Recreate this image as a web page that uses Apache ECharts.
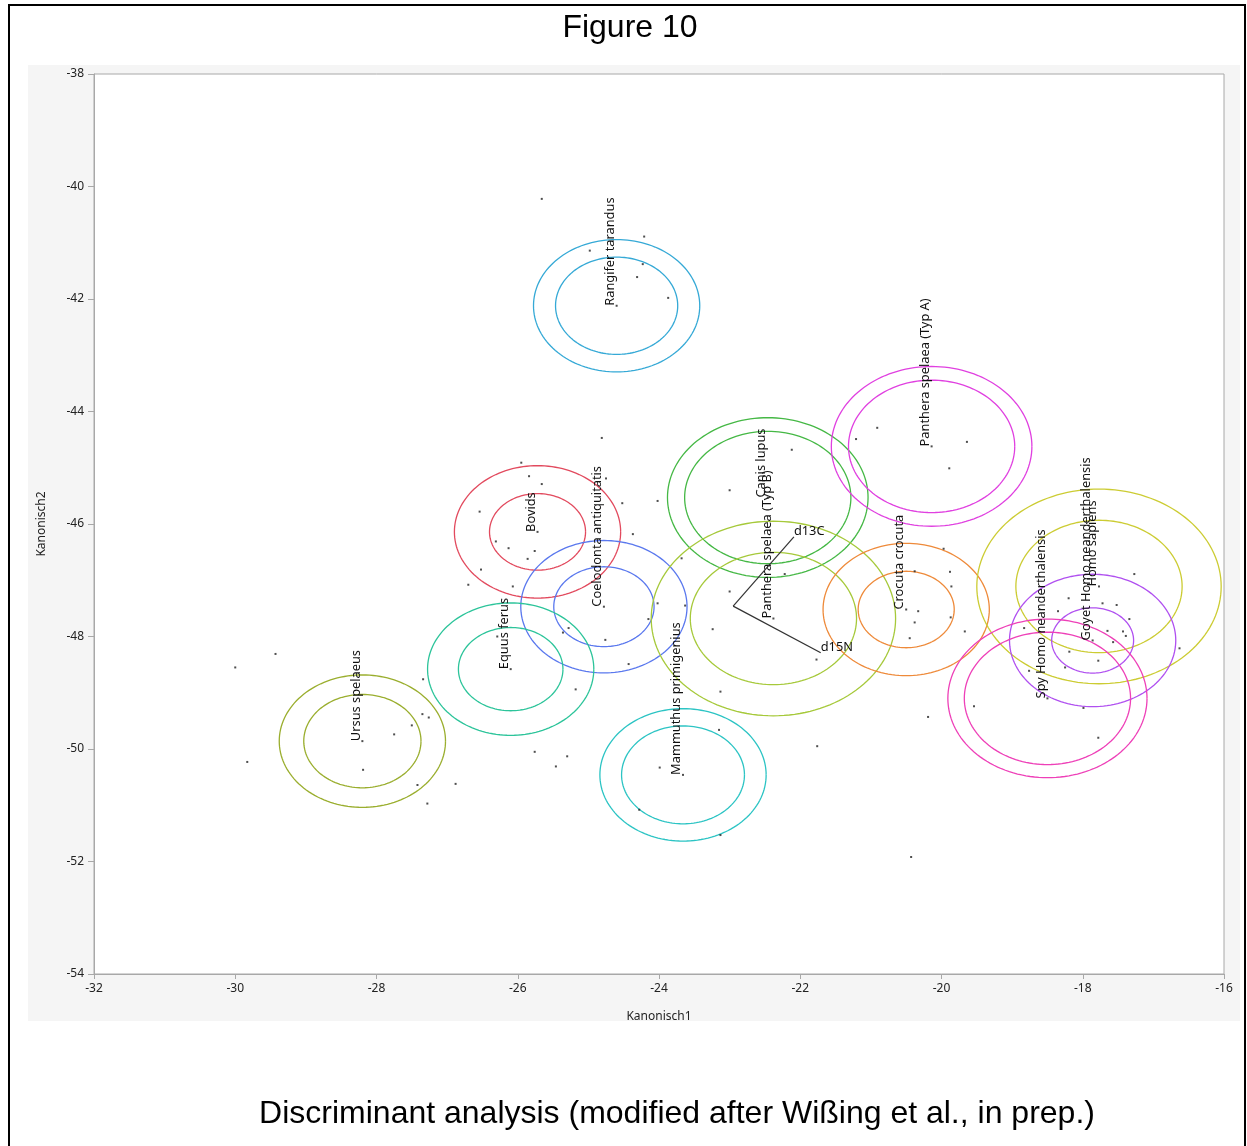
<!DOCTYPE html>
<html>
<head>
<meta charset="utf-8">
<script src="https://cdn.jsdelivr.net/npm/echarts@6/dist/echarts.min.js"></script>
<style>
  html, body { margin: 0; padding: 0; background: #fff; }
  #chart { width: 1247px; height: 1146px; }
</style>
</head>
<body>
<div id="chart"></div>
<script>
// ---- Data ----
const groupNames = ['Rangifer tarandus', 'Bovids', 'Coelodonta antiquitatis', 'Equus ferus', 'Ursus spelaeus',
  'Mammuthus primigenius', 'Canis lupus', 'Panthera spelaea (Typ B)', 'Crocuta crocuta',
  'Panthera spelaea (Typ A)', 'Homo sapiens', 'Goyet Homo neanderthalensis', 'Spy Homo neanderthalensis'];
const groupColors = ['#35a9d6', '#e24a5e', '#5a78ee', '#2cc49a', '#9aae2e', '#2cc4c4', '#45b845',
  '#a6c93a', '#ee8a3a', '#e040e0', '#cccc33', '#b050f0', '#ee40b8'];
const centerX = [-24.60, -25.72, -24.78, -26.10, -28.20, -23.66, -22.46, -22.38, -20.50, -20.14, -17.77, -17.86, -18.50];
const centerY = [-42.12, -46.14, -47.47, -48.58, -49.86, -50.46, -45.53, -47.68, -47.52, -44.62, -47.11, -48.07, -49.10];
const meanRadius = [0.865, 0.68, 0.71, 0.74, 0.83, 0.87, 1.42, 1.73, 0.68, 1.42, 1.73, 0.58, 1.41];
const contourRadius = [1.177, 1.177, 1.177, 1.177, 1.177, 1.177, 1.177, 1.177, 1.177, 1.177, 1.177, 1.177, 1.177];

const pointsX = [-25.66, -24.98, -24.21, -24.23, -24.31, -23.87, -24.81, -25.95, -25.84, -25.66, -24.75, -24.52,
  -24.02, -26.54, -24.37, -26.31, -26.13, -25.76, -25.86, -26.52, -26.70, -26.07, -24.02, -23.63, -24.15,
  -25.36, -25.28, -24.76, -23.68, -24.43, -26.29, -27.34, -25.18, -29.43, -30.00, -27.35, -27.26, -27.50,
  -27.75, -29.83, -28.19, -27.42, -26.88, -27.28, -25.76, -25.30, -25.46, -23.13, -23.15, -23.99, -24.28,
  -23.13, -21.76, -20.43, -20.91, -21.21, -22.12, -19.64, -19.89, -23.00, -22.22, -23.00, -23.24, -21.77,
  -19.97, -19.88, -20.38, -19.86, -20.33, -20.38, -19.87, -19.67, -20.45, -19.54, -20.19, -17.27, -18.20,
  -17.72, -17.52, -18.35, -17.34, -18.83, -17.65, -17.43, -17.39, -17.57, -16.63, -18.19, -17.78, -18.25,
  -18.76, -17.99, -17.78];
const pointsY = [-40.22, -41.14, -40.89, -41.38, -41.61, -41.98, -44.47, -44.91, -45.15, -45.29, -45.19, -45.63,
  -45.59, -45.78, -46.18, -46.31, -46.43, -46.48, -46.62, -46.81, -47.08, -47.11, -47.41, -47.45, -47.69,
  -47.93, -47.85, -48.06, -46.61, -48.49, -48.00, -48.76, -48.94, -48.31, -48.55, -49.38, -49.44, -49.58,
  -49.74, -50.23, -50.37, -50.64, -50.62, -50.97, -50.05, -50.13, -50.31, -48.98, -49.66, -50.33, -51.08,
  -51.53, -49.95, -51.92, -44.29, -44.49, -44.68, -44.54, -45.01, -45.40, -46.89, -47.20, -47.87, -48.41,
  -46.44, -46.85, -46.84, -47.11, -47.55, -47.75, -47.66, -47.91, -48.03, -49.24, -49.43, -46.89, -47.32,
  -47.41, -47.44, -47.55, -47.69, -47.85, -47.90, -47.91, -47.99, -48.10, -48.21, -48.27, -48.43, -48.55,
  -48.61, -49.27, -49.80];

const rayOrigin = [-22.95, -47.46];
const rayNames = ['d13C', 'd15N'];
const rayTipX = [-22.09, -21.71];
const rayTipY = [-46.23, -48.29];

const xTicks = { min: -32, max: -16, interval: 2 };
const yTicks = { min: -54, max: -38, interval: 2 };

// ---- Chart ----
const chart = echarts.init(document.getElementById('chart'), null, { renderer: 'canvas' });
const FONT = '"Noto Sans", "DejaVu Sans", sans-serif';
const LABEL_FONT = '12.8px ' + FONT;

const groupData = groupNames.map((n, i) => [centerX[i], centerY[i], meanRadius[i], contourRadius[i], i]);

function circlePoints(api, cx, cy, r) {
  const pts = [];
  const N = 144;
  for (let k = 0; k <= N; k++) {
    const a = (k / N) * Math.PI * 2;
    pts.push(api.coord([cx + r * Math.cos(a), cy + r * Math.sin(a)]));
  }
  return pts;
}

const option = {
  animation: false,
  backgroundColor: '#ffffff',
  graphic: [
    { type: 'rect', z: -10, silent: true, shape: { x: 9, y: 5, width: 1236, height: 1160 },
      style: { fill: '#ffffff', stroke: '#000000', lineWidth: 2 } },
    { type: 'rect', z: -5, silent: true, shape: { x: 28, y: 65, width: 1212, height: 956 },
      style: { fill: '#f5f5f5' } },
    { type: 'text', z: 10, x: 630, y: 28, style: { text: 'Figure 10', font: '32px "Liberation Sans", Arial, sans-serif',
      fill: '#000', textAlign: 'center', textVerticalAlign: 'middle' } },
    { type: 'text', z: 10, x: 677, y: 1114, style: { text: 'Discriminant analysis (modified after Wißing et al., in prep.)',
      font: '32px "Liberation Sans", Arial, sans-serif', fill: '#000', textAlign: 'center', textVerticalAlign: 'middle' } }
  ],
  grid: { left: 94, top: 74, right: 23, bottom: 172, show: true, backgroundColor: '#ffffff',
    borderColor: '#a8a8a8', borderWidth: 1, containLabel: false, outerBoundsMode: 'none' },
  xAxis: {
    type: 'value', min: xTicks.min, max: xTicks.max, interval: xTicks.interval,
    name: 'Kanonisch1', nameLocation: 'middle', nameGap: 37,
    nameTextStyle: { fontFamily: FONT, fontSize: 12, color: '#222' },
    axisLine: { show: true, lineStyle: { color: '#a8a8a8', width: 1 } },
    axisTick: { show: true, inside: false, length: 5, lineStyle: { color: '#a8a8a8' } },
    axisLabel: { fontFamily: FONT, fontSize: 12, color: '#222', margin: 9 },
    splitLine: { show: false }
  },
  yAxis: {
    type: 'value', min: yTicks.min, max: yTicks.max, interval: yTicks.interval,
    name: 'Kanonisch2', nameLocation: 'middle', nameGap: 46, nameRotate: 90,
    nameTextStyle: { fontFamily: FONT, fontSize: 12, color: '#222' },
    axisLine: { show: true, lineStyle: { color: '#a8a8a8', width: 1 } },
    axisTick: { show: true, inside: false, length: 6, lineStyle: { color: '#a8a8a8' } },
    axisLabel: { fontFamily: FONT, fontSize: 12, color: '#222', margin: 10 },
    splitLine: { show: false }
  },
  series: [
    {
      type: 'scatter', name: 'points', symbol: 'rect', symbolSize: 2, silent: true,
      itemStyle: { color: '#222' }, z: 3,
      data: pointsX.map((x, i) => [x, pointsY[i]])
    },
    {
      type: 'scatter', name: 'centers', symbol: 'rect', symbolSize: 2, silent: true,
      itemStyle: { color: '#222' }, z: 3,
      data: centerX.map((x, i) => [x, centerY[i]])
    },
    {
      type: 'custom', name: 'groups', z: 2, silent: true,
      data: groupData,
      clip: true,
      renderItem: function (params, api) {
        const cx = api.value(0), cy = api.value(1);
        const r1 = api.value(2), r2 = api.value(3);
        const idx = api.value(4);
        const c = api.coord([cx, cy]);
        const col = groupColors[idx];
        return {
          type: 'group',
          children: [
            { type: 'polyline', shape: { points: circlePoints(api, cx, cy, r1) },
              style: { stroke: col, fill: null, lineWidth: 1.3 } },
            { type: 'polyline', shape: { points: circlePoints(api, cx, cy, r2) },
              style: { stroke: col, fill: null, lineWidth: 1.3 } },
            { type: 'text', x: c[0], y: c[1], rotation: Math.PI / 2, z2: 10,
              style: { text: groupNames[idx], font: LABEL_FONT, fill: '#111',
                textAlign: 'left', textVerticalAlign: 'bottom' } }
          ]
        };
      }
    },
    {
      type: 'custom', name: 'rays', z: 4, silent: true,
      data: rayNames.map((n, i) => [rayOrigin[0], rayOrigin[1], rayTipX[i], rayTipY[i], i]),
      renderItem: function (params, api) {
        const o = api.coord([api.value(0), api.value(1)]);
        const t = api.coord([api.value(2), api.value(3)]);
        const i = api.value(4);
        return {
          type: 'group',
          children: [
            { type: 'line', shape: { x1: o[0], y1: o[1], x2: t[0], y2: t[1] },
              style: { stroke: '#333', lineWidth: 1.2 } },
            { type: 'text', x: t[0], y: t[1] + 1, style: { text: rayNames[i], font: LABEL_FONT, fill: '#111',
              textAlign: 'left', textVerticalAlign: 'bottom' } }
          ]
        };
      }
    }
  ]
};
chart.setOption(option);
</script>
</body>
</html>
